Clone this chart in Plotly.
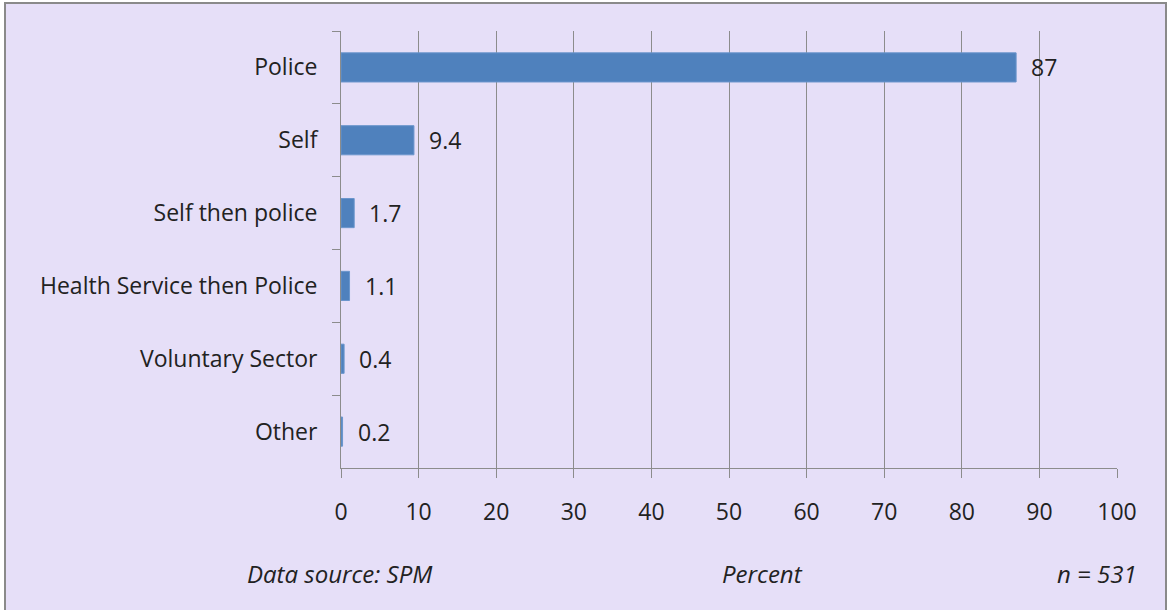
import plotly.graph_objects as go

categories = ["Police", "Self", "Self then police", "Health Service then Police",
              "Voluntary Sector", "Other"]
values = [87, 9.4, 1.7, 1.1, 0.4, 0.2]
value_labels = ["87", "9.4", "1.7", "1.1", "0.4", "0.2"]
x_ticks = [0, 10, 20, 30, 40, 50, 60, 70, 80, 90, 100]

W, H = 1168, 610
L, R, T, B = 341, 51, 31, 142
pw, ph = W - L - R, H - T - B


def px(x):
    return (x - L) / pw


def py(y):
    return (H - B - y) / ph


FONT = "Open Sans"
TXT = "#222222"
GRID = "#8c8c8c"

fig = go.Figure()
fig.add_trace(go.Bar(
    x=values, y=categories, orientation="h",
    marker=dict(color="#4F81BD", line=dict(color="#6a95cc", width=1)),
    hoverinfo="x+y",
))

for v, c, t in zip(values, categories, value_labels):
    fig.add_annotation(x=v, y=c, text=t, showarrow=False, xanchor="left",
                       xshift=13, font=dict(family=FONT, size=23, color=TXT))

# background frame
fig.add_shape(type="rect", xref="paper", yref="paper",
              x0=px(5), x1=px(1166), y0=py(640), y1=py(3),
              fillcolor="#E6DFF8", line=dict(color="#8a8a8a", width=2),
              layer="below")

foot = dict(family=FONT, size=24, color=TXT)
fig.add_annotation(x=px(245), y=py(592), xref="paper", yref="paper",
                   text="<i>Data source: SPM</i>", showarrow=False,
                   xanchor="left", font=foot)
fig.add_annotation(x=px(762), y=py(592), xref="paper", yref="paper",
                   text="<i>Percent</i>", showarrow=False,
                   xanchor="center", font=foot)
fig.add_annotation(x=px(1139), y=py(592), xref="paper", yref="paper",
                   text="<i>n = 531</i>", showarrow=False,
                   xanchor="right", font=foot)

fig.update_layout(
    width=W, height=H,
    margin=dict(l=L, r=R, t=T, b=B, pad=0),
    paper_bgcolor="white", plot_bgcolor="rgba(0,0,0,0)",
    bargap=0.6, showlegend=False,
    font=dict(family=FONT, size=23, color=TXT),
)
fig.update_xaxes(
    range=[0, 100], tickvals=x_ticks, ticktext=[str(t) for t in x_ticks],
    showgrid=True, gridcolor=GRID, gridwidth=1,
    showline=True, linecolor=GRID, linewidth=1,
    ticks="outside", ticklen=9, tickcolor=GRID,
    ticklabelstandoff=14, zeroline=False,
    tickfont=dict(family=FONT, size=23, color=TXT),
)
fig.update_yaxes(
    categoryorder="array", categoryarray=categories, autorange="reversed",
    showline=True, linecolor=GRID, linewidth=1,
    ticks="outside", ticklen=8, tickcolor=GRID, tickson="boundaries",
    showgrid=False, ticklabelstandoff=18,
    tickfont=dict(family=FONT, size=23, color=TXT),
)

fig.write_html("out.html", config={"displayModeBar": False},
               post_script="document.body.style.margin='0';")
